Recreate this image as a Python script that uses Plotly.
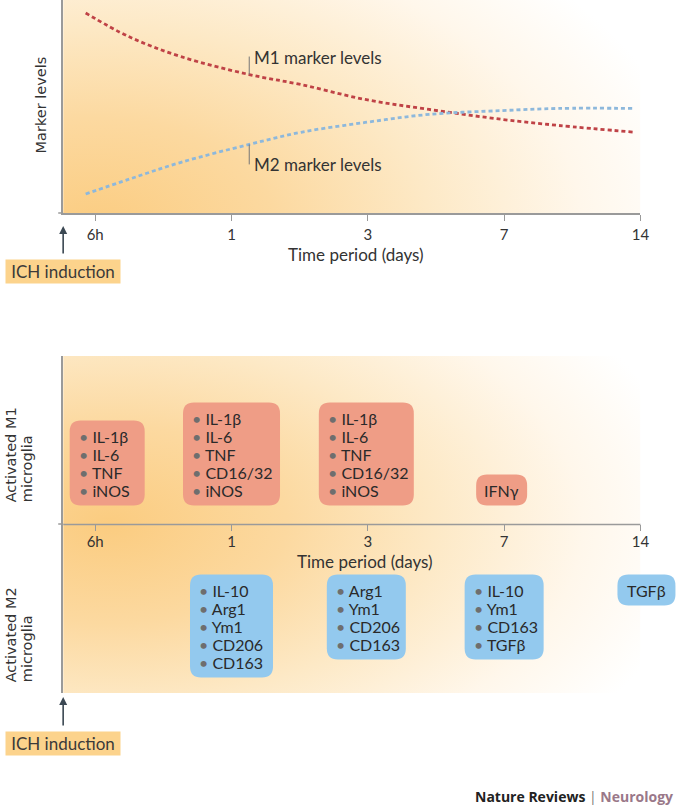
import base64

import plotly.graph_objects as go

W, H = 685, 805

# the time axis is ordinal: ticks sit at evenly spaced indexes
TIME_TICKS = ["6h", "1", "3", "7", "14"]

# top panel: relative marker levels (0-100) read along the time index
CURVE_T = [-0.07, 0.25, 0.63, 1.13, 1.51, 1.98, 2.45, 2.99, 3.40, 3.96]
M1_LEVELS = [93.9, 82.7, 73.4, 65.0, 60.3, 53.3, 48.6, 43.9, 41.1, 37.9]
M2_LEVELS = [8.9, 15.9, 23.8, 32.2, 37.9, 42.5, 46.3, 48.1, 49.1, 49.1]
LABEL_AT = 3  # sample where the leader lines are drawn

# bottom panel: markers expressed at each time point
M1_TIMES = [0, 1, 2, 3]
M1_MARKERS = [
    ["IL-1β", "IL-6", "TNF", "iNOS"],
    ["IL-1β", "IL-6", "TNF", "CD16/32", "iNOS"],
    ["IL-1β", "IL-6", "TNF", "CD16/32", "iNOS"],
    ["IFNγ"],
]
M2_TIMES = [1, 2, 3, 4]
M2_MARKERS = [
    ["IL-10", "Arg1", "Ym1", "CD206", "CD163"],
    ["Arg1", "Ym1", "CD206", "CD163"],
    ["IL-10", "Ym1", "CD163", "TGFβ"],
    ["TGFβ"],
]

# ---- styling -------------------------------------------------------------
FONT = "Lato, Open Sans, sans-serif"
TEXT = "#333333"
AXIS = "#9a9a9a"
RED = "#bf4246"
BLUE = "#8db8dc"
M1_FILL = "#ef9d86"
M2_FILL = "#93c9ee"
BULLET = "#6e6e6e"
ICH_FILL = "#fcd38c"
ARROW = "#3b4853"

M1_BOX_W = [75, 97, 95, 51]
M1_BOX_DX = [12, 0, -1.5, -2.5]
M2_BOX_W = [83, 79, 79, 58]
M2_BOX_DX = [0, -1.5, 0, 6]
LINE_H = 18

GRADIENT_STOPS = [
    (0.0, "#fbcc80"),
    (0.3, "#fcd9a0"),
    (0.55, "#fde9c6"),
    (0.8, "#fff7eb"),
    (1.0, "#ffffff"),
]

PX_PER_T = 138.13
X0 = -0.235  # time index at the left (vertical) axis


def px(x):
    return x / W


def py(y):
    return 1 - y / H


def gradient_uri(w, h, cx, cy, r, squash):
    stops = "".join(f'<stop offset="{o}" stop-color="{c}"/>' for o, c in GRADIENT_STOPS)
    svg = (
        f'<svg xmlns="http://www.w3.org/2000/svg" width="{w}" height="{h}" '
        f'viewBox="0 0 {w} {h}" preserveAspectRatio="none"><defs>'
        f'<radialGradient id="g" gradientUnits="userSpaceOnUse" cx="{cx}" cy="{cy}" r="{r}" '
        f'gradientTransform="translate({cx} {cy}) scale(1 {squash}) translate({-cx} {-cy})">'
        f"{stops}</radialGradient></defs>"
        f'<rect width="{w}" height="{h}" fill="url(#g)"/></svg>'
    )
    return "data:image/svg+xml;base64," + base64.b64encode(svg.encode()).decode()


def rounded_path(x0, x1, y0, y1, r):
    # pixel offsets from the anchor, y pointing up (y0 bottom, y1 top)
    return (
        f"M{x0 + r},{y0} L{x1 - r},{y0} Q{x1},{y0} {x1},{y0 + r} "
        f"L{x1},{y1 - r} Q{x1},{y1} {x1 - r},{y1} L{x0 + r},{y1} "
        f"Q{x0},{y1} {x0},{y1 - r} L{x0},{y0 + r} Q{x0},{y0} {x0 + r},{y0} Z"
    )


def add_boxes(fig, times, markers, widths, shifts, fill, above):
    for t, items, w, dx in zip(times, markers, widths, shifts):
        h = LINE_H * len(items) + 13
        if above:
            bottom = 19
            top = bottom + h
        else:
            top = -50
            bottom = top - h
        left, right = dx - w / 2, dx + w / 2
        fig.add_shape(
            type="path", xref="x2", yref="y2", xsizemode="pixel", ysizemode="pixel",
            xanchor=t, yanchor=0, path=rounded_path(left, right, bottom, top, 11),
            fillcolor=fill, line_width=0, layer="above",
        )
        for k, item in enumerate(items):
            if len(items) == 1:
                text, anchor, shift = item, "center", dx
            else:
                text = f"<span style='color:{BULLET}'>•</span> {item}"
                anchor, shift = "left", left + 7
            fig.add_annotation(
                x=t, y=0, xref="x2", yref="y2", text=text, showarrow=False,
                xanchor=anchor, yanchor="middle", xshift=shift,
                yshift=top - 16 - LINE_H * k,
                font=dict(family=FONT, size=16, color="#2a2a2a"),
            )


fig = go.Figure()

fig.add_trace(go.Scatter(
    x=CURVE_T, y=M1_LEVELS, mode="lines", line_shape="spline",
    line=dict(color=RED, width=2.8, dash="4px,3px"), hoverinfo="skip",
))
fig.add_trace(go.Scatter(
    x=CURVE_T, y=M2_LEVELS, mode="lines", line_shape="spline",
    line=dict(color=BLUE, width=2.8, dash="4px,3px"), hoverinfo="skip",
))
# keeps the bottom subplot alive; it only carries boxes
fig.add_trace(go.Scatter(x=[], y=[], xaxis="x2", yaxis="y2", hoverinfo="skip"))

tick_style = dict(
    tickvals=list(range(len(TIME_TICKS))), ticktext=TIME_TICKS,
    ticks="outside", ticklen=6, tickwidth=1.2, tickcolor=AXIS,
    tickfont=dict(family=FONT, size=15, color=TEXT),
    showgrid=False, zeroline=False, fixedrange=True,
)
fig.update_layout(
    xaxis=dict(domain=[px(64), px(649)], range=[X0, len(TIME_TICKS) - 1],
               showline=True, linecolor=AXIS, linewidth=1.5, anchor="y",
               ticklabelstandoff=1, **tick_style),
    yaxis=dict(domain=[py(213), 1], range=[0, 100], showline=True, linecolor=AXIS,
               linewidth=1.5, showticklabels=False, ticks="", showgrid=False,
               zeroline=False, anchor="x", fixedrange=True),
    xaxis2=dict(domain=[px(64), 1], range=[X0, X0 + (W - 64) / PX_PER_T],
                showline=False, anchor="free", position=py(524),
                ticklabelstandoff=-2, **tick_style),
    yaxis2=dict(domain=[py(693), py(356)], range=[-1, 1], showline=True, linecolor=AXIS,
                linewidth=1.5, showticklabels=False, ticks="", showgrid=False,
                zeroline=False, anchor="x2", fixedrange=True),
)

# background wash
fig.add_layout_image(dict(
    source=gradient_uri(585, 213, 30, 230, 620, 0.6), xref="paper", yref="paper",
    x=px(64), y=1, sizex=585 / W, sizey=213 / H, sizing="stretch", layer="below",
))
fig.add_layout_image(dict(
    source=gradient_uri(585, 337, 46, 168, 600, 0.55), xref="paper", yref="paper",
    x=px(64), y=py(356), sizex=585 / W, sizey=337 / H, sizing="stretch", layer="below",
))

# bottom time axis line plus the small stubs left of both vertical axes
fig.add_shape(type="line", xref="x2", yref="y2", x0=X0, x1=len(TIME_TICKS) - 1, y0=0, y1=0,
              line=dict(color=AXIS, width=1.5))
for y in (213, 524):
    fig.add_shape(type="line", xref="paper", yref="paper", x0=px(59), x1=px(64),
                  y0=py(y), y1=py(y), line=dict(color=AXIS, width=1.5))

# leader lines and curve labels
lt = CURVE_T[LABEL_AT]
fig.add_shape(type="line", xref="x", yref="y", x0=lt, x1=lt, ysizemode="pixel",
              yanchor=M1_LEVELS[LABEL_AT], y0=0, y1=18, line=dict(color="#777777", width=1))
fig.add_shape(type="line", xref="x", yref="y", x0=lt, x1=lt, ysizemode="pixel",
              yanchor=M2_LEVELS[LABEL_AT], y0=0, y1=-20, line=dict(color="#777777", width=1))
label_font = dict(family=FONT, size=17, color=TEXT)
fig.add_annotation(x=lt, y=M1_LEVELS[LABEL_AT], text="M1 marker levels", showarrow=False,
                   xanchor="left", yanchor="middle", xshift=3, yshift=17, font=label_font)
fig.add_annotation(x=lt, y=M2_LEVELS[LABEL_AT], text="M2 marker levels", showarrow=False,
                   xanchor="left", yanchor="middle", xshift=3, yshift=-20, font=label_font)

add_boxes(fig, M1_TIMES, M1_MARKERS, M1_BOX_W, M1_BOX_DX, M1_FILL, above=True)
add_boxes(fig, M2_TIMES, M2_MARKERS, M2_BOX_W, M2_BOX_DX, M2_FILL, above=False)

# axis titles
for x, y in ((361, 254), (370, 561)):
    fig.add_annotation(x=px(x), y=py(y), xref="paper", yref="paper", text="Time period (days)",
                       showarrow=False, xanchor="center", yanchor="middle", font=label_font)

ytitle_font = dict(family="DejaVu Sans", size=14.5, color=TEXT)
fig.add_annotation(x=px(42), y=py(105), xref="paper", yref="paper", text="Marker levels",
                   showarrow=False, textangle=-90, xanchor="center", yanchor="middle",
                   font=ytitle_font)
for bottom, name in ((504, "Activated M1"), (684, "Activated M2")):
    for x, line in ((11, name), (27, "microglia")):
        fig.add_annotation(x=px(x), y=py(bottom), xref="paper", yref="paper", text=line,
                           showarrow=False, textangle=-90, xanchor="center", yanchor="bottom",
                           font=ytitle_font)

# ICH induction markers
for head, tail, box in ((226, 255, 271.5), (697, 727, 743)):
    fig.add_annotation(x=px(64), y=py(head), xref="paper", yref="paper", text="",
                       showarrow=True, ax=0, ay=tail - head, arrowhead=2, arrowsize=1,
                       arrowwidth=1.6, arrowcolor=ARROW)
    fig.add_annotation(x=px(64), y=py(box), xref="paper", yref="paper", text="ICH induction",
                       showarrow=False, xanchor="center", yanchor="middle", bgcolor=ICH_FILL,
                       width=110, height=19, borderpad=2,
                       font=dict(family=FONT, size=17, color="#3a3a3a"))

fig.add_annotation(
    x=px(684), y=py(796), xref="paper", yref="paper", showarrow=False,
    xanchor="right", yanchor="middle",
    text="<b>Nature Reviews</b> <span style='color:#777'>|</span> "
         "<b><span style='color:#9a7889'>Neurology</span></b>",
    font=dict(family="Open Sans, Lato, sans-serif", size=14, color="#222222"),
)

fig.update_layout(
    template="plotly_white",
    width=W, height=H, margin=dict(l=0, r=0, t=0, b=0),
    paper_bgcolor="white", plot_bgcolor="rgba(0,0,0,0)",
    showlegend=False, font=dict(family=FONT, color=TEXT),
)

# the page's default 8px body margin would push the figure off the window
fig.write_html("out.html", config={"displayModeBar": False},
               post_script="document.body.style.margin='0';")
